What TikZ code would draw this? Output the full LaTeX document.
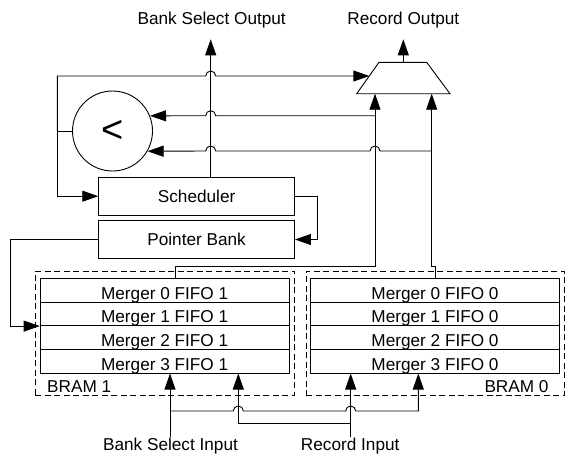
\documentclass[tikz,border=0pt]{standalone}
\usepackage{fontspec}
\setmainfont{Liberation Sans}
\usetikzlibrary{arrows.meta,calc}
\begin{document}
\begin{tikzpicture}[x=1pt,y=-1pt,
  every path/.style={line width=0.9pt},
  lbl/.style={font=\fontsize{17.2}{20}\selectfont, inner sep=0pt},
  box/.style={draw, line width=0.9pt, font=\fontsize{17.2}{20}\selectfont, inner sep=0pt,
              minimum width=195.8pt, text height=12.2pt, text depth=0pt},
  fifo/.style={draw, line width=0.9pt, font=\fontsize{17.2}{20}\selectfont, inner sep=0pt,
              minimum width=249pt, minimum height=23.7pt, text height=17.7pt, text depth=0pt},
  dbox/.style={draw, line width=0.9pt, dash pattern=on 6pt off 3.5pt, inner sep=0pt,
              minimum height=124.3pt},
  arr/.style={-{Triangle[length=16pt,width=11pt]}}
]
\useasboundingbox (0,0) rectangle (565,456);

% BRAM containers
\node[dbox, minimum width=259pt] (bram1) at (164.8,333.2) {};
\node[dbox, minimum width=258.3pt] (bram0) at (435.15,333.2) {};
\node[lbl, anchor=base west] (b1lbl) at (46.7,392) {BRAM 1};
\node[lbl, anchor=base east] (b0lbl) at (549,392) {BRAM 0};

% FIFO rows
\node[fifo] (f10) at (164.65,290.15) {Merger 0 FIFO 1};
\node[fifo] (f11) at (164.65,313.8) {Merger 1 FIFO 1};
\node[fifo] (f12) at (164.65,337.5) {Merger 2 FIFO 1};
\node[fifo] (f13) at (164.65,361.2) {Merger 3 FIFO 1};
\node[fifo] (f00) at (435,290.15) {Merger 0 FIFO 0};
\node[fifo] (f01) at (435,313.8) {Merger 1 FIFO 0};
\node[fifo] (f02) at (435,337.5) {Merger 2 FIFO 0};
\node[fifo] (f03) at (435,361.2) {Merger 3 FIFO 0};

% Scheduler and pointer bank
\node[box, minimum height=37.7pt] (sched) at (196.6,196.2) {Scheduler};
\node[box, minimum height=37.6pt] (ptr) at (196.6,239.5) {Pointer Bank};

% Comparator
\node[circle, draw, line width=0.9pt, minimum size=80pt, inner sep=0pt] (cmp) at (112.5,131)
  {\fontsize{38}{38}\selectfont <};

% Multiplexer
\coordinate (mtl) at (379,62.3);
\coordinate (mtr) at (426.7,62.3);
\coordinate (mbr) at (450,93.7);
\coordinate (mbl) at (356.7,93.7);
\draw (mtl) -- (mtr) -- (mbr) -- (mbl) -- cycle;
\coordinate (msel) at (369.3,76);
\coordinate (mout) at (403.3,62.3);

% labels
\node[lbl, anchor=base] (bsolbl) at (211.7,24) {Bank Select Output};
\node[lbl, anchor=base] (rolbl) at (403.3,24) {Record Output};
\node[lbl, anchor=base] (bsi) at (170.5,450) {Bank Select Input};
\node[lbl, anchor=base] (ri) at (350.2,450) {Record Input};

% helper x positions
\coordinate (xbs) at (210.7,39.3);
\coordinate (xro) at (403.3,39.3);
\coordinate (xa) at (170,0);
\coordinate (xb) at (238.3,0);
\coordinate (xc) at (350.7,0);
\coordinate (xd) at (418.3,0);
\coordinate (xl) at (175.7,0);

% outputs
\draw[arr] (sched.north -| xbs) -- (xbs);
\draw[arr] (mout) -- (xro);

% comparator output to mux select and scheduler
\draw (cmp.west) -- (57.3,131) coordinate (j1);
\draw[arr] (j1) -- (57.3,76) -- (205.7,76) arc[start angle=180,end angle=360,radius=5] -- (msel);
\draw[arr] (j1) |- (sched.west);

% scheduler -> pointer bank -> BRAM 1
\draw[arr] (sched.east) -- (317.3,196.2) |- (ptr.east);
\draw[arr] (ptr.west) -- (10,239.5) |- (f11.south west);

% FIFO heads to mux and comparator
\draw[arr] (f10.north -| xl) -- (175.7,266.7) -- (375,266.7) -- (375,93.7);
\draw[arr] (f00.north) -- (435,266) -- (431.7,266) -- (431.7,93.7);
\draw[arr] (375,115.7) -- (215.7,115.7) arc[start angle=0,end angle=-180,radius=5] -- (cmp.22.5);
\draw[arr] (431.7,151) -- (380,151) arc[start angle=0,end angle=-180,radius=5]
  -- (215.7,151) arc[start angle=0,end angle=-180,radius=5] -- (cmp.-30);

% inputs
\draw[arr] (bsi.north -| xa) -- (f13.south -| xa);
\draw[arr] (170,411) -- (233.3,411) arc[start angle=180,end angle=360,radius=5]
  -- (345.7,411) arc[start angle=180,end angle=360,radius=5] -- (418.3,411) -- (f03.south -| xd);
\draw[arr] (ri.north -| xc) -- (f03.south -| xc);
\draw[arr] (350.7,423.3) -- (238.3,423.3) -- (f13.south -| xb);
\end{tikzpicture}
\end{document}
